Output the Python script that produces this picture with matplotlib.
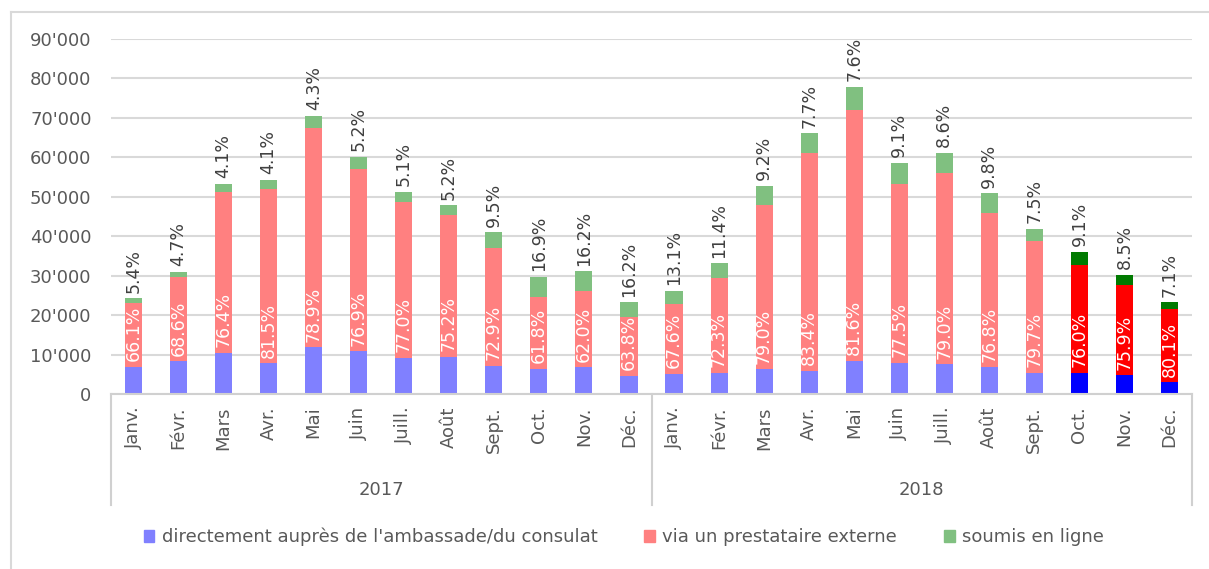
import matplotlib.pyplot as plt
from matplotlib.lines import Line2D

mois = ["Janv.", "Févr.", "Mars", "Avr.", "Mai", "Juin",
        "Juill.", "Août", "Sept.", "Oct.", "Nov.", "Déc."]
annees = ["2017", "2018"]

directement = [6920, 8280, 10390, 7820, 11840, 10780, 9180, 9370, 7220, 6330, 6780, 4640,
               5060, 5400, 6230, 5880, 8410, 7850, 7590, 6820, 5360, 5380, 4710, 2970]
prestataire = [16040, 21270, 40720, 44250, 55620, 46290, 39500, 35950, 29890, 18350, 19280, 14800,
               17710, 23930, 41710, 55130, 63570, 45420, 48350, 39090, 33390, 27440, 22920, 18580]
en_ligne = [1310, 1460, 2190, 2230, 3030, 3130, 2620, 2490, 3900, 5020, 5040, 3760,
            3430, 3770, 4860, 5090, 5920, 5330, 5260, 4990, 3140, 3290, 2570, 1650]

pct_prestataire = ["66.1%", "68.6%", "76.4%", "81.5%", "78.9%", "76.9%", "77.0%", "75.2%",
                   "72.9%", "61.8%", "62.0%", "63.8%", "67.6%", "72.3%", "79.0%", "83.4%",
                   "81.6%", "77.5%", "79.0%", "76.8%", "79.7%", "76.0%", "75.9%", "80.1%"]
pct_en_ligne = ["5.4%", "4.7%", "4.1%", "4.1%", "4.3%", "5.2%", "5.1%", "5.2%",
                "9.5%", "16.9%", "16.2%", "16.2%", "13.1%", "11.4%", "9.2%", "7.7%",
                "7.6%", "9.1%", "8.6%", "9.8%", "7.5%", "9.1%", "8.5%", "7.1%"]

series = ["directement auprès de l'ambassade/du consulat",
          "via un prestataire externe", "soumis en ligne"]

# couleurs pâles, puis vives pour les trois derniers mois (oct.-déc. 2018)
n = len(directement)
vifs = 3
c_bleu = ["#8080FF"] * (n - vifs) + ["#0000FF"] * vifs
c_rouge = ["#FF8080"] * (n - vifs) + ["#FF0000"] * vifs
c_vert = ["#80C080"] * (n - vifs) + ["#007A00"] * vifs

gris = "#595959"
plt.rcParams["font.family"] = "DejaVu Sans"

fig = plt.figure(figsize=(12.09, 5.69), dpi=100)
ax = fig.add_axes([111 / 1209, 1 - 394 / 569, (1192 - 111) / 1209, (394 - 39) / 569])

x = list(range(n))
w = 0.38
bas2 = directement
bas3 = [a + b for a, b in zip(directement, prestataire)]
ax.bar(x, directement, w, color=c_bleu, zorder=2)
ax.bar(x, prestataire, w, bottom=bas2, color=c_rouge, zorder=2)
ax.bar(x, en_ligne, w, bottom=bas3, color=c_vert, zorder=2)

for i in x:
    ax.annotate(pct_prestataire[i], (i, bas2[i]), xytext=(0, 4), textcoords="offset points",
                rotation=90, ha="center", va="bottom", color="white", fontsize=12.5, zorder=3)
    ax.annotate(pct_en_ligne[i], (i, bas3[i] + en_ligne[i]), xytext=(0, 4),
                textcoords="offset points", rotation=90, ha="center", va="bottom",
                color="#404040", fontsize=12.5, zorder=3)

ax.set_xlim(-0.5, n - 0.5)
ax.set_ylim(0, 90000)
ax.set_yticks(range(0, 90001, 10000))
ax.set_yticklabels([f"{v:,}".replace(",", "'") for v in range(0, 90001, 10000)],
                   color=gris, fontsize=13)
ax.yaxis.grid(True, color="#D9D9D9", linewidth=1.5, zorder=0)
ax.set_xticks(x)
ax.set_xticklabels(mois * 2, rotation=90, color=gris, fontsize=13, va="top")
ax.tick_params(axis="x", length=0, pad=9)
ax.tick_params(axis="y", length=0, pad=14)
for s in ["top", "right", "left"]:
    ax.spines[s].set_visible(False)
ax.spines["bottom"].set_color("#D0D0D0")
ax.spines["bottom"].set_linewidth(1.5)

# séparateurs des années
tr = ax.get_xaxis_transform()
for xs in [-0.5, 11.5, n - 0.5]:
    ax.plot([xs, xs], [0, -111 / 355], transform=tr, color="#D0D0D0", lw=1.5, clip_on=False)
for k, an in enumerate(annees):
    ax.text(5.5 + 12 * k, -96 / 355, an, transform=tr, ha="center", va="center",
            color=gris, fontsize=13)

# cadre extérieur
fig.add_artist(Line2D([11 / 1209, 11 / 1209], [0, 1 - 12 / 569], color="#D9D9D9", lw=1.5))
fig.add_artist(Line2D([11 / 1209, 1], [1 - 12 / 569, 1 - 12 / 569], color="#D9D9D9", lw=1.5))

poignees = [plt.Rectangle((0, 0), 1, 1, color=c) for c in ["#8080FF", "#FF8080", "#80C080"]]
fig.legend(poignees, series, loc="center", bbox_to_anchor=(0.516, 1 - 537 / 569), ncol=3,
           frameon=False, fontsize=13, labelcolor=gris, handlelength=0.6, handleheight=0.6,
           handletextpad=0.4, columnspacing=2.6)

fig.savefig("out.png", dpi=100)
